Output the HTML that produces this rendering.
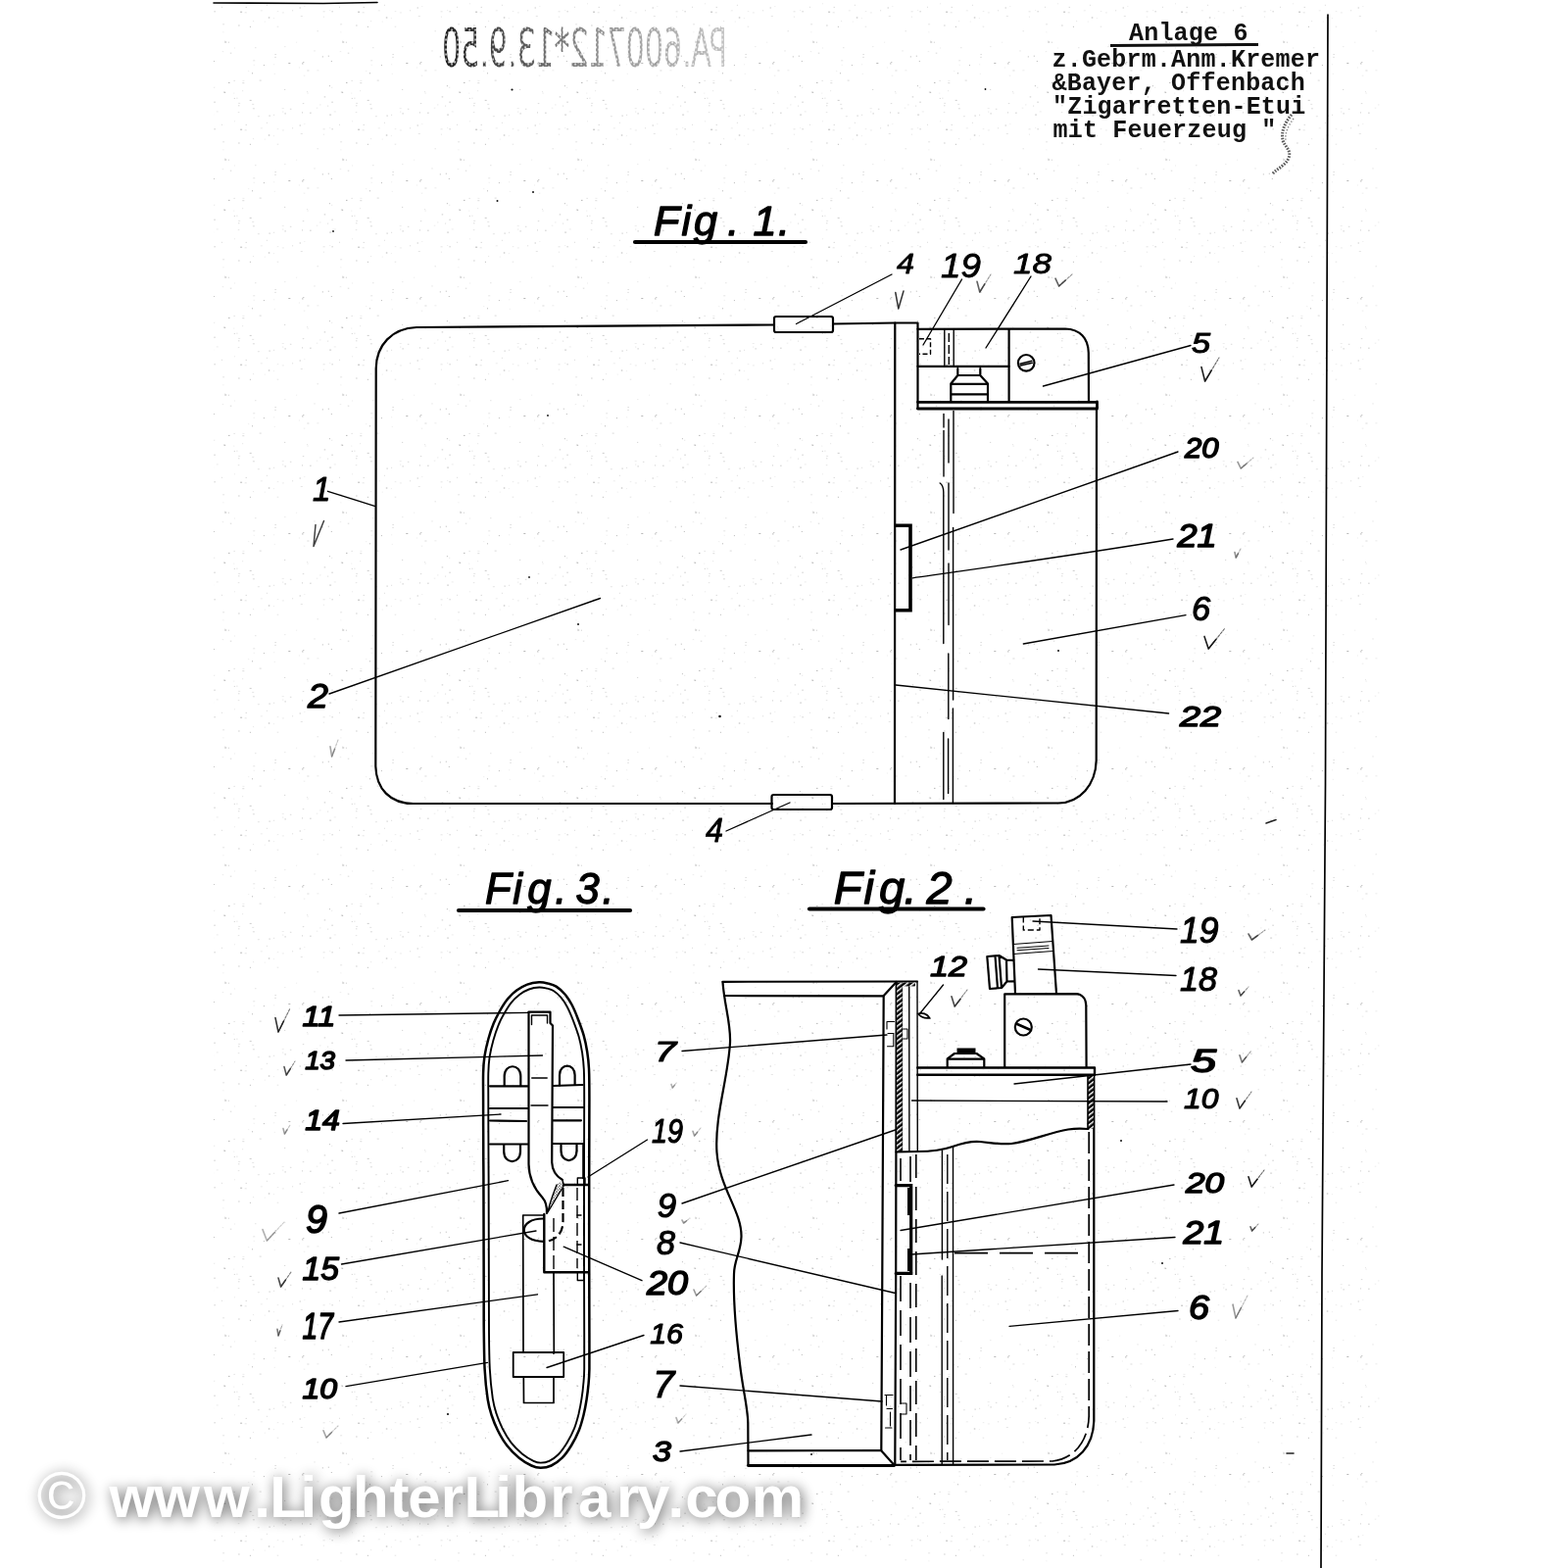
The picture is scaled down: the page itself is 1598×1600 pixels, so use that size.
<!DOCTYPE html>
<html lang="de">
<head>
<meta charset="utf-8">
<title>Anlage 6 - Zigarretten-Etui mit Feuerzeug</title>
<style>
html,body{margin:0;padding:0;background:#fff;}
body{width:1598px;height:1600px;overflow:hidden;}
svg{display:block;}
.m{fill:none;stroke:#000;stroke-width:2.2;stroke-linecap:round;stroke-linejoin:round;}
.h{fill:none;stroke:#000;stroke-width:2.8;stroke-linecap:round;stroke-linejoin:round;}
.t{fill:none;stroke:#000;stroke-width:1.4;stroke-linecap:round;stroke-linejoin:round;}
.l{fill:none;stroke:#000;stroke-width:1.35;stroke-linecap:round;}
.k{fill:none;stroke:#000;stroke-width:4;stroke-linecap:butt;stroke-linejoin:miter;}
.c{fill:none;stroke:#222;stroke-width:1.2;stroke-linecap:round;stroke-linejoin:round;opacity:.8;}
.n{font-family:"Liberation Sans","DejaVu Sans",sans-serif;font-style:italic;font-weight:normal;fill:#000;stroke:#000;stroke-linejoin:round;}
.f{font-family:"Liberation Sans","DejaVu Sans",sans-serif;font-style:italic;font-weight:normal;fill:#000;stroke:#000;stroke-width:1.3;stroke-linejoin:round;}
.ty{font-family:"Liberation Mono","DejaVu Sans Mono",monospace;font-weight:bold;font-size:25px;letter-spacing:.2px;fill:#111;}
</style>
</head>
<body>
<svg width="1598" height="1600" viewBox="0 0 1598 1600" role="img" aria-label="Patentzeichnung Zigarretten-Etui mit Feuerzeug">
<defs><pattern id="tx" width="120" height="120" patternUnits="userSpaceOnUse"><rect x="38.9" y="18.1" width="1" height="1" fill="#000" opacity="0.07"/><rect x="98.6" y="11.3" width="1" height="1" fill="#000" opacity="0.28"/><rect x="25.8" y="10.3" width="2" height="1" fill="#000" opacity="0.07"/><rect x="28.9" y="66.1" width="1" height="1" fill="#000" opacity="0.28"/><rect x="14.9" y="26.8" width="1" height="1" fill="#000" opacity="0.28"/><rect x="70.3" y="6.0" width="1" height="1" fill="#000" opacity="0.07"/><rect x="66.8" y="16.0" width="2" height="1" fill="#000" opacity="0.1"/><rect x="64.9" y="68.5" width="1" height="1" fill="#000" opacity="0.07"/><rect x="69.8" y="76.7" width="1.5" height="1" fill="#000" opacity="0.07"/><rect x="65.7" y="7.5" width="1" height="1" fill="#000" opacity="0.28"/><rect x="24.7" y="81.6" width="2" height="1" fill="#000" opacity="0.14"/><rect x="55.9" y="110.8" width="1.5" height="1" fill="#000" opacity="0.14"/><rect x="29.8" y="21.6" width="1" height="1" fill="#000" opacity="0.07"/><rect x="68.9" y="63.0" width="1.5" height="1" fill="#000" opacity="0.2"/><rect x="34.6" y="117.6" width="1" height="1" fill="#000" opacity="0.28"/><rect x="50.2" y="90.9" width="1" height="1" fill="#000" opacity="0.2"/><rect x="50.6" y="115.4" width="1" height="1" fill="#000" opacity="0.28"/><rect x="68.8" y="105.1" width="1.5" height="1" fill="#000" opacity="0.14"/><rect x="83.4" y="71.3" width="2" height="1" fill="#000" opacity="0.07"/><rect x="100.8" y="113.4" width="2" height="1" fill="#000" opacity="0.07"/><rect x="7.3" y="84.2" width="2" height="1" fill="#000" opacity="0.14"/><rect x="86.0" y="106.4" width="1.5" height="1" fill="#000" opacity="0.07"/><rect x="112.9" y="42.7" width="1" height="1" fill="#000" opacity="0.2"/><rect x="7.1" y="92.2" width="1" height="1" fill="#000" opacity="0.1"/><rect x="47.7" y="110.0" width="2" height="1" fill="#000" opacity="0.07"/><rect x="20.0" y="48.2" width="1.5" height="1" fill="#000" opacity="0.1"/><rect x="98.3" y="103.7" width="1.5" height="1" fill="#000" opacity="0.2"/><rect x="118.4" y="81.9" width="2" height="1" fill="#000" opacity="0.1"/><rect x="18.1" y="21.1" width="1" height="1" fill="#000" opacity="0.1"/><rect x="1.4" y="99.7" width="1" height="1" fill="#000" opacity="0.14"/><rect x="33.8" y="17.5" width="1.5" height="1" fill="#000" opacity="0.28"/><rect x="68.0" y="114.4" width="1" height="1" fill="#000" opacity="0.2"/><rect x="107.9" y="93.6" width="2" height="1" fill="#000" opacity="0.2"/><rect x="47.9" y="12.4" width="2" height="1" fill="#000" opacity="0.07"/><rect x="22.9" y="118.2" width="2" height="1" fill="#000" opacity="0.1"/><rect x="13.2" y="72.1" width="1" height="1" fill="#000" opacity="0.07"/><rect x="68.0" y="64.4" width="1.5" height="1" fill="#000" opacity="0.28"/><rect x="3.1" y="104.9" width="2" height="1" fill="#000" opacity="0.1"/><rect x="76.1" y="114.7" width="1.5" height="1" fill="#000" opacity="0.2"/><rect x="14.7" y="101.9" width="2" height="1" fill="#000" opacity="0.2"/><rect x="58.1" y="10.3" width="1" height="1" fill="#000" opacity="0.14"/><rect x="88.8" y="57.4" width="1" height="1" fill="#000" opacity="0.28"/><rect x="2.8" y="114.1" width="1.5" height="1" fill="#000" opacity="0.1"/><rect x="82.8" y="109.7" width="1.5" height="1" fill="#000" opacity="0.07"/><rect x="83.5" y="31.3" width="1.5" height="1" fill="#000" opacity="0.1"/><rect x="42.7" y="26.7" width="1.5" height="1" fill="#000" opacity="0.1"/><rect x="73.6" y="94.6" width="1" height="1" fill="#000" opacity="0.1"/><rect x="98.2" y="88.8" width="1" height="1" fill="#000" opacity="0.1"/><rect x="62.1" y="42.7" width="1" height="1" fill="#000" opacity="0.07"/><rect x="94.8" y="56.7" width="1" height="1" fill="#000" opacity="0.28"/><rect x="114.8" y="53.7" width="1.5" height="1" fill="#000" opacity="0.14"/><rect x="9.7" y="12.3" width="2" height="1" fill="#000" opacity="0.1"/><rect x="40.5" y="57.9" width="1" height="1" fill="#000" opacity="0.2"/><rect x="109.1" y="41.3" width="1" height="1" fill="#000" opacity="0.07"/><rect x="109.2" y="93.9" width="1" height="1" fill="#000" opacity="0.2"/><rect x="106.7" y="52.1" width="1.5" height="1" fill="#000" opacity="0.07"/><rect x="96.1" y="116.6" width="2" height="1" fill="#000" opacity="0.2"/><rect x="48.2" y="113.6" width="1" height="1" fill="#000" opacity="0.1"/><rect x="119.2" y="3.3" width="2" height="1" fill="#000" opacity="0.1"/><rect x="73.4" y="71.5" width="2" height="1" fill="#000" opacity="0.14"/><rect x="18.7" y="65.8" width="1" height="1" fill="#000" opacity="0.07"/><rect x="95.9" y="87.2" width="1" height="1" fill="#000" opacity="0.28"/><rect x="89.9" y="16.7" width="1" height="1" fill="#000" opacity="0.1"/><rect x="3.4" y="25.5" width="1" height="1" fill="#000" opacity="0.28"/><rect x="39.1" y="65.3" width="1" height="1" fill="#000" opacity="0.07"/><rect x="109.2" y="42.5" width="2" height="1" fill="#000" opacity="0.28"/><rect x="97.8" y="62.0" width="1" height="1" fill="#000" opacity="0.28"/><rect x="18.2" y="61.3" width="2" height="1" fill="#000" opacity="0.1"/><rect x="73.0" y="93.1" width="1" height="1" fill="#000" opacity="0.1"/><rect x="17.0" y="74.3" width="1" height="1" fill="#000" opacity="0.28"/><rect x="7.4" y="81.9" width="2" height="1" fill="#000" opacity="0.07"/><rect x="106.0" y="6.8" width="1" height="1" fill="#000" opacity="0.14"/><rect x="5.1" y="11.7" width="2" height="1" fill="#000" opacity="0.28"/><rect x="3.3" y="107.3" width="1" height="1" fill="#000" opacity="0.2"/><rect x="39.1" y="116.8" width="1" height="1" fill="#000" opacity="0.14"/><rect x="54.3" y="64.0" width="2" height="1" fill="#000" opacity="0.28"/><rect x="113.0" y="83.9" width="1.5" height="1" fill="#000" opacity="0.28"/><rect x="107.1" y="24.3" width="2" height="1" fill="#000" opacity="0.1"/><rect x="50.0" y="47.1" width="1.5" height="1" fill="#000" opacity="0.07"/><rect x="80.5" y="51.4" width="1" height="1" fill="#000" opacity="0.14"/><rect x="94.1" y="107.6" width="1" height="1" fill="#000" opacity="0.14"/><rect x="17.2" y="105.9" width="2" height="1" fill="#000" opacity="0.1"/><rect x="89.6" y="11.3" width="2" height="1" fill="#000" opacity="0.1"/><rect x="118.8" y="99.9" width="1" height="1" fill="#000" opacity="0.2"/><rect x="119.3" y="48.5" width="2" height="1" fill="#000" opacity="0.1"/><rect x="42.8" y="11.1" width="1.5" height="1" fill="#000" opacity="0.07"/><rect x="40.6" y="55.0" width="1" height="1" fill="#000" opacity="0.2"/><rect x="39.8" y="74.9" width="1" height="1" fill="#000" opacity="0.07"/><rect x="118.2" y="94.6" width="1" height="1" fill="#000" opacity="0.07"/><rect x="31.9" y="4.8" width="1" height="1" fill="#000" opacity="0.14"/><rect x="90.7" y="98.4" width="1.5" height="1" fill="#000" opacity="0.2"/><rect x="17.9" y="110.3" width="2" height="1" fill="#000" opacity="0.14"/><rect x="10.7" y="6.9" width="1" height="1" fill="#000" opacity="0.2"/><rect x="107.4" y="32.3" width="1" height="1" fill="#000" opacity="0.07"/><rect x="96.2" y="10.0" width="1" height="1" fill="#000" opacity="0.07"/></pattern><pattern id="sp" width="6" height="5" patternUnits="userSpaceOnUse"><rect width="6" height="5" fill="#fff"/><rect x="1" y="1" width="1.8" height="1.5" fill="#000"/><rect x="4" y="3.4" width="1.8" height="1.3" fill="#000"/></pattern><linearGradient id="sg" gradientUnits="userSpaceOnUse" x1="0" y1="0" x2="291" y2="0"><stop offset="0" stop-color="#000" stop-opacity=".75"/><stop offset=".45" stop-color="#000" stop-opacity=".55"/><stop offset="1" stop-color="#000" stop-opacity=".05"/></linearGradient><mask id="spk" maskUnits="userSpaceOnUse" x="-10" y="-50" width="320" height="70"><rect x="-10" y="-50" width="320" height="70" fill="url(#sp)"/><rect x="-10" y="-50" width="320" height="70" fill="url(#sg)"/></mask><pattern id="stp" width="3" height="3" patternUnits="userSpaceOnUse"><rect width="3" height="3" fill="#fff"/><rect x=".4" y=".4" width="1.3" height="1.3" fill="#222"/><rect x="2" y="1.9" width=".9" height=".9" fill="#444"/></pattern><pattern id="hat" width="4" height="4" patternUnits="userSpaceOnUse" patternTransform="rotate(-38)"><rect width="4" height="4" fill="#000"/><rect x="0" y="0" width="4" height="1.5" fill="#fff"/></pattern><filter id="wsh" filterUnits="userSpaceOnUse" x="0" y="1460" width="880" height="140" color-interpolation-filters="sRGB"><feGaussianBlur in="SourceAlpha" stdDeviation="7" result="b"/><feOffset in="b" dx="1.5" dy="2" result="o"/><feComponentTransfer in="o" result="s"><feFuncA type="linear" slope="0.62"/></feComponentTransfer><feMerge><feMergeNode in="s"/><feMergeNode in="SourceGraphic"/></feMerge></filter></defs>
<rect width="1598" height="1600" fill="#fff"/>
<rect x="218" y="0" width="1190" height="1600" fill="url(#tx)"/>
<g id="border">
<path class="t" d="M218,3 L330,3.5 L385,2.5" style="stroke-width:1.6"/>
<path class="t" d="M1355,15 L1352.5,800 L1349,1300 L1348,1600" style="stroke-width:1.7"/>
</g>
<g id="fig1">
<path class="m" d="M790,331.5 L425,334 C400,335 384,352 383.7,376 L383.3,782 C384,805 398,820 422,820 L788,820"/>
<rect class="m" x="790" y="323" width="60" height="16" rx="2"/>
<rect class="m" x="787.5" y="811" width="61.5" height="15" rx="2"/>
<path class="m" d="M850,330.5 L913,329.5 L936.5,329.5 L936.5,417"/>
<path class="m" d="M849,820 L1080,819.5 C1102,819 1118,801 1118.7,776 L1119,417"/>
<line class="m" x1="913.3" y1="329.5" x2="913" y2="820"/>
<path class="h" d="M936.5,410.3 L1119,410.3 M936.5,417 L1119.5,417 L1119.5,410"/>
<path class="m" d="M936.5,335.8 L1087,335.5 C1102,336 1110.5,345 1110.8,360 L1111,410"/>
<line class="m" x1="1029.6" y1="336" x2="1029.6" y2="410"/>
<line class="m" x1="936.5" y1="373.8" x2="1029.6" y2="373.8"/>
<line class="t" x1="963.8" y1="336" x2="963.8" y2="373"/>
<line class="t" x1="973.2" y1="336" x2="973.2" y2="373"/>
<line class="t" x1="968.3" y1="340" x2="968.3" y2="372" stroke-dasharray="9 3" style="stroke-linecap:butt"/>
<path class="t" d="M938,345.8 L949.5,345.8 L949.5,361.3 L938,361.3" stroke-dasharray="5 2.5" style="stroke-linecap:butt"/>
<path class="m" d="M977.3,376 L977.3,383 L1000.3,383 L1000.3,376 M977.3,383 L970.3,391.5 L970.3,410 M1000.3,383 L1008,391.5 L1008,410 M970.3,391.8 L1008,391.8 M970.3,402.3 L1008,402.3"/>
<circle class="m" cx="1047.2" cy="370.3" r="8.3"/>
<path class="t" d="M1041,371.2 L1053,368.3 M1041.3,373 L1053.3,370.3"/>
<line class="t" x1="963" y1="422.5" x2="963" y2="436"/>
<line class="t" x1="963" y1="439.5" x2="963" y2="486"/>
<path class="t" d="M959.2,493 C961.5,494.5 962.7,498 962.8,502 L962.8,656.5"/>
<line class="t" x1="962.8" y1="747.5" x2="962.8" y2="815.5"/>
<line class="t" x1="968" y1="428" x2="968" y2="472"/>
<line class="t" x1="968" y1="493" x2="968" y2="561"/>
<line class="t" x1="968" y1="575" x2="968" y2="637.5"/>
<line class="t" x1="967.8" y1="667" x2="967.8" y2="733.5"/>
<line class="t" x1="967.6" y1="754" x2="967.6" y2="809.5"/>
<line class="t" x1="973" y1="419.5" x2="973" y2="523.5"/>
<line class="t" x1="972.6" y1="538.5" x2="972.6" y2="714"/>
<line class="t" x1="972.4" y1="723" x2="972.4" y2="819.5"/>
<path class="k" d="M913.6,536.2 L929,536.2 L929,622.8 L913.6,622.8" style="stroke-width:3.6"/>
</g>
<g id="fig2">
<path class="m" d="M737.5,1001.8 L936,1001.5"/>
<path class="m" d="M739,1016 L901.5,1016.3 L914.7,1002"/>
<path class="m" d="M737.5,1002 C739,1025 746,1045 745,1064 C743,1100 729,1140 731.5,1176 C734,1212 757,1236 756.5,1262 C756,1278 749,1286 749,1300 C748,1330 751,1360 755,1392 C758,1418 763,1436 763.3,1452 L763.5,1495.5"/>
<path class="h" d="M763.5,1495.5 L912.5,1495.5"/>
<path class="m" d="M763.5,1480.3 L899,1480 L912.5,1495"/>
<path class="m" d="M901.7,1016.3 L900.3,1300 L899.3,1480"/>
<path class="m" d="M914.7,1002 L914.2,1300 L913.3,1495"/>
<path class="t" d="M920.4,1002 L920.4,1175"/>
<path class="t" d="M927.7,1002 L927.9,1175 M936,1001.5 L936.3,1175"/>
<rect x="915.2" y="1003" width="5.4" height="172" fill="url(#hat)"/>
<rect x="916" y="1002.6" width="18" height="3.8" fill="url(#hat)"/>
<path class="t" d="M905,1042.5 L912.5,1042.5 M905,1042.5 L905,1050 M906,1054.5 L912,1054.5 M911.8,1054.5 L911.8,1067.8 L905.5,1067.8 M921.5,1050 L926,1050 L926,1060 L921.5,1060" style="stroke-width:1.1"/>
<path class="t" d="M903,1423.5 L911,1423.5 M904.5,1423.5 L904.5,1434 M905,1437.5 L910.5,1437.5 M908.5,1441 L908.5,1455 M903.5,1457 L910,1457 M919,1432 L925,1432 L925,1443 L919,1443" style="stroke-width:1.1"/>
<path class="m" d="M936.3,1089.5 L1117,1089.5 L1117,1096.8 L936.3,1096.8" style="stroke-width:2.4"/>
<path class="m" d="M1025.2,1089 L1025.2,1014.3 L1098,1014.2 C1104,1014.5 1108,1019 1108.3,1026 L1108.6,1089"/>
<circle class="m" cx="1044.3" cy="1048" r="8.5"/>
<path class="m" d="M1038,1045 L1050.5,1050.5" style="stroke-width:2.6"/>
<path class="m" d="M966.7,1089 L966.7,1080.3 L974,1075 L996.5,1075 L1004.3,1080.3 L1004.3,1089 M966.7,1080.6 L1004.3,1080.6"/>
<path class="k" d="M976.5,1072 L995.5,1072" style="stroke-width:5"/>
<path class="m" d="M1036,1014 L1032.7,936 L1072.5,934 L1078,1014"/>
<path class="t" d="M1044.3,935.5 L1044.3,949 L1061,949 L1061,935" stroke-dasharray="6 3" style="stroke-linecap:butt"/>
<path class="t" d="M1034,963.5 L1074,960.5 M1034.3,973.5 L1074.5,970.5 M1038,967.3 L1070,965 M1038,969.7 L1070,967.5" style="stroke-width:1"/>
<path class="m" d="M1007.3,976 L1019.5,975 L1027,979.5 L1034.3,979.8 M1007.3,976 L1010,1009 L1022,1008 L1027.5,1001.5 L1035,1001.3 M1019.5,975 L1022,1008 M1027,979.5 L1027.5,1001.5 M1015.5,975.5 L1018,1008.3"/>
<path class="m" d="M1116.3,1097 L1116.3,1450 C1115.5,1476 1100,1493 1076,1494.5 L913,1494.8"/>
<path class="m" d="M1110.3,1097 L1110.3,1152"/>
<rect x="1110.8" y="1098" width="5" height="54" fill="url(#hat)"/>
<path class="t" d="M1111.2,1155 L1111.2,1445 C1110.5,1470 1097,1488 1074,1491 L919,1491.3" stroke-dasharray="22 6" style="stroke-linecap:butt;stroke-width:1.7"/>
<path class="m" d="M936.3,1175 C950,1175 962,1173.5 972,1170 C982,1166.5 990,1164 1000,1165 C1012,1166 1020,1168 1032,1167 C1050,1165 1070,1156 1090,1152.5 C1098,1151.3 1104,1151.5 1110.3,1152"/>
<path class="m" d="M914.5,1175.5 L936.3,1175"/>
<path class="t" d="M919,1182 L919,1205 M919,1302 L919,1490" stroke-dasharray="26 9" style="stroke-linecap:butt;stroke-width:1.6"/>
<path class="t" d="M929,1180 L929,1206 M929,1309 L929,1490" stroke-dasharray="26 9" style="stroke-linecap:butt;stroke-width:1.6"/>
<path class="t" d="M934.8,1178 L934.8,1490" stroke-dasharray="24 9" style="stroke-linecap:butt;stroke-width:1.6"/>
<path class="t" d="M961.4,1174 L961.4,1285 M961.2,1302 L961.2,1494"/>
<path class="t" d="M966.8,1178 L966.8,1490" stroke-dasharray="30 8" style="stroke-linecap:butt"/>
<path class="t" d="M972.5,1170 L972.6,1494"/>
<path class="t" d="M974,1278.7 L1107,1278.7" stroke-dasharray="34 12" style="stroke-linecap:butt;stroke-width:1.8"/>
<path class="m" d="M914.2,1209.6 L929.7,1209.6 L929.7,1299.4 L914.2,1299.4" style="stroke-width:3.2;stroke-linejoin:miter"/>
<path class="k" d="M928.3,1212 L928.3,1240 M928.3,1274 L928.3,1297" style="stroke-width:4.6"/>
</g>
<g id="fig3">
<path class="h" d="M493.1,1121.5 C493.1,1110.7 492.9,1102.3 493.1,1095.0 C493.3,1087.7 493.6,1083.4 494.5,1077.6 C495.4,1071.8 496.9,1065.5 498.4,1060.0 C499.9,1054.5 501.8,1049.0 503.7,1044.3 C505.6,1039.6 507.5,1036.1 509.8,1032.0 C512.1,1027.9 514.8,1023.4 517.7,1019.8 C520.6,1016.2 523.9,1013.1 527.3,1010.6 C530.7,1008.1 534.2,1006.0 538.0,1004.6 C541.8,1003.2 546.5,1002.5 550.1,1002.3 C553.7,1002.1 556.6,1002.9 559.5,1003.6 C562.4,1004.3 564.8,1004.8 567.6,1006.6 C570.4,1008.4 573.8,1011.4 576.4,1014.5 C579.0,1017.6 581.2,1020.9 583.4,1025.0 C585.6,1029.1 587.5,1033.7 589.5,1039.0 C591.5,1044.3 594.1,1050.9 595.7,1056.6 C597.3,1062.3 598.3,1067.6 599.2,1073.3 C600.1,1079.0 600.6,1082.8 601.0,1090.8 C601.4,1098.8 601.4,1110.0 601.4,1121.5 C601.4,1133.0 601.3,1146.9 601.3,1160.0 C601.3,1173.1 601.2,1186.7 601.2,1200.0 C601.2,1213.3 601.2,1226.7 601.2,1240.0 C601.2,1253.3 601.2,1266.7 601.2,1280.0 C601.2,1293.3 601.3,1306.7 601.3,1320.0 C601.3,1333.3 601.4,1347.2 601.4,1360.0 C601.4,1372.8 601.5,1388.2 601.4,1397.0 C601.2,1405.8 601.0,1407.4 600.5,1412.6 C600.0,1417.8 599.4,1422.8 598.6,1428.0 C597.8,1433.2 596.8,1438.8 595.5,1444.0 C594.2,1449.2 592.9,1454.3 590.8,1459.5 C588.7,1464.7 585.9,1470.3 583.0,1475.0 C580.1,1479.7 577.0,1484.3 573.6,1487.7 C570.2,1491.1 566.2,1493.8 562.6,1495.5 C559.0,1497.2 555.1,1497.8 551.7,1497.8 C548.3,1497.8 545.9,1497.2 542.3,1495.5 C538.6,1493.8 534.0,1491.1 529.8,1487.7 C525.6,1484.3 520.9,1479.7 517.3,1475.0 C513.6,1470.3 510.5,1464.7 507.9,1459.5 C505.3,1454.3 503.3,1449.2 501.6,1444.0 C499.9,1438.8 498.9,1435.8 497.7,1428.0 C496.5,1420.2 495.2,1408.3 494.6,1397.0 C494.0,1385.7 494.0,1372.8 493.8,1360.0 C493.6,1347.2 493.7,1333.3 493.7,1320.0 C493.7,1306.7 493.6,1293.3 493.6,1280.0 C493.6,1266.7 493.5,1253.3 493.5,1240.0 C493.5,1226.7 493.4,1213.3 493.4,1200.0 C493.3,1186.7 493.2,1173.1 493.2,1160.0 C493.1,1146.9 493.1,1132.3 493.1,1121.5 Z" style="stroke-width:2.5"/>
<path class="m" d="M498.3,1121.5 C498.3,1110.7 498.1,1102.4 498.3,1095.2 C498.5,1088.0 498.8,1084.0 499.6,1078.4 C500.5,1072.7 501.9,1066.7 503.4,1061.4 C504.9,1056.0 506.7,1050.7 508.5,1046.3 C510.3,1041.8 512.1,1038.4 514.3,1034.6 C516.5,1030.7 519.0,1026.4 521.7,1023.1 C524.4,1019.8 527.4,1017.0 530.4,1014.8 C533.4,1012.5 536.5,1010.7 539.8,1009.5 C543.1,1008.3 547.3,1007.6 550.3,1007.5 C553.4,1007.4 555.9,1008.1 558.3,1008.6 C560.7,1009.2 562.4,1009.4 564.8,1011.0 C567.1,1012.5 570.1,1015.1 572.5,1017.9 C574.8,1020.6 576.8,1023.6 578.8,1027.5 C580.8,1031.3 582.7,1035.8 584.7,1040.9 C586.6,1046.0 589.1,1052.5 590.7,1058.0 C592.3,1063.6 593.2,1068.6 594.1,1074.1 C594.9,1079.6 595.4,1083.1 595.8,1091.0 C596.2,1098.9 596.2,1110.0 596.2,1121.5 C596.2,1133.0 596.1,1146.9 596.1,1160.0 C596.1,1173.1 596.0,1186.7 596.0,1200.0 C596.0,1213.3 596.0,1226.7 596.0,1240.0 C596.0,1253.3 596.0,1266.7 596.0,1280.0 C596.0,1293.3 596.1,1306.7 596.1,1320.0 C596.1,1333.3 596.2,1347.2 596.2,1360.0 C596.2,1372.8 596.3,1388.2 596.2,1396.9 C596.1,1405.6 595.8,1407.1 595.3,1412.1 C594.9,1417.2 594.3,1422.1 593.5,1427.2 C592.7,1432.3 591.7,1437.7 590.5,1442.8 C589.2,1447.8 588.0,1452.6 586.0,1457.6 C584.0,1462.5 581.2,1467.9 578.6,1472.3 C575.9,1476.7 572.9,1481.0 569.9,1484.0 C566.9,1487.1 563.5,1489.3 560.4,1490.8 C557.4,1492.2 554.4,1492.6 551.7,1492.6 C549.0,1492.6 547.6,1492.3 544.5,1490.8 C541.4,1489.3 536.9,1486.8 533.1,1483.7 C529.3,1480.5 524.8,1476.2 521.4,1471.8 C518.0,1467.4 515.0,1462.1 512.5,1457.2 C510.1,1452.2 508.2,1447.4 506.5,1442.4 C504.9,1437.4 504.0,1434.8 502.8,1427.2 C501.7,1419.6 500.4,1407.9 499.8,1396.7 C499.2,1385.5 499.1,1372.7 499.0,1359.9 C498.9,1347.2 498.9,1333.3 498.9,1320.0 C498.9,1306.7 498.8,1293.3 498.8,1280.0 C498.8,1266.7 498.7,1253.3 498.7,1240.0 C498.7,1226.7 498.6,1213.3 498.6,1200.0 C498.5,1186.6 498.4,1173.1 498.4,1160.0 C498.3,1146.9 498.3,1132.3 498.3,1121.5 Z" style="stroke-width:1.9"/>
<path class="m" d="M539.5,1033 L539.5,1188 C539.8,1206 548,1216 553.5,1222 C557,1226 558.3,1230 558,1238"/>
<path class="m" d="M539.5,1032.7 L561.5,1032.7 L561.5,1044 L564,1046.5 L563.2,1186 C563.5,1196 568,1200.5 574,1204"/>
<path class="t" d="M542.5,1045.5 L542.5,1036 L558.5,1036 L558.5,1044"/>
<line class="t" x1="542.7" y1="1100" x2="558.2" y2="1100"/>
<line class="t" x1="542" y1="1128" x2="559" y2="1128"/>
<path class="m" d="M574,1204.5 L575.5,1209.5 L559,1237 C560.5,1228 565,1217 568,1209" style="stroke-width:1.4;fill:url(#stp)"/>
<path class="m" d="M500,1108.3 L538.5,1108.3 M564,1108 L594.5,1107 M500,1131 L538.5,1131 M564.5,1130 L595,1130 M500,1143.5 L537,1144 M564.5,1143.3 L593,1143.3 M500,1167.5 L538.5,1167.5 M564,1167 L595,1167"/>
<path class="m" d="M514.7,1108 L514.7,1098 C514.7,1085 531.3,1085 531.3,1098 L531.3,1108"/>
<path class="m" d="M571,1107.5 L571,1097 C571,1084.5 586.6,1084.5 586.6,1097 L586.6,1107"/>
<path class="m" d="M514.2,1168 L514.2,1175 C514.2,1188.5 531,1188.5 531,1175 L531,1168"/>
<path class="m" d="M572.5,1168 L572.5,1174 C572.5,1187.5 588.5,1187.5 588.5,1174 L588.5,1168"/>
<path class="k" d="M595.5,1167 L595.5,1203" style="stroke-width:2.6"/>
<path class="m" d="M575,1209 L600.8,1209 M555.3,1239 L555.3,1298.3 L600.8,1298.3" style="stroke-width:2.4"/>
<path class="t" d="M589.3,1202 L597,1202 L597,1209 M589.3,1202 L589.3,1209 M589.3,1299 L589.3,1306.5 L596,1306.5 L596,1299"/>
<path class="t" d="M565,1243 L565,1296" stroke-dasharray="14 5" style="stroke-linecap:butt"/>
<path class="m" d="M574.5,1212 L574.5,1246 C574.5,1258 568,1264.5 559,1266.5" stroke-dasharray="9 4" style="stroke-linecap:butt"/>
<path class="t" d="M589,1212 L589,1294 M595.8,1212 L595.8,1292" stroke-dasharray="13 5" style="stroke-linecap:butt"/>
<path class="t" d="M589,1240 L593,1240 M589,1270 L593,1270"/>
<path class="m" d="M555,1240 L533.7,1240 L534,1380 M565,1299 L565.3,1380 M534.3,1405 L534.5,1431.5 L565,1431.5 L565,1405" style="stroke-width:1.7"/>
<path class="m" d="M555,1243.5 C528,1243 528,1267 555,1266.8"/>
<rect class="m" x="523.7" y="1380" width="51.5" height="25" style="stroke-width:1.8"/>
</g>
<g id="leaders">
<line class="l" x1="334.5" y1="501.3" x2="383" y2="516.6"/>
<line class="l" x1="336" y1="708" x2="612.5" y2="610.5"/>
<line class="l" x1="910" y1="280" x2="812.5" y2="330.5"/>
<line class="l" x1="741" y1="848" x2="806" y2="819"/>
<line class="l" x1="981.5" y1="285" x2="942" y2="352"/>
<line class="l" x1="1052" y1="282" x2="1006" y2="355"/>
<line class="l" x1="1215" y1="352.5" x2="1064.5" y2="394"/>
<line class="l" x1="1202" y1="461" x2="919" y2="561"/>
<line class="l" x1="1210" y1="627.6" x2="1044.3" y2="657"/>
<line class="l" x1="1192.6" y1="728" x2="914" y2="699"/>
<line class="l" x1="962.5" y1="1005" x2="938" y2="1035"/>
<line class="l" x1="1201" y1="948" x2="1054" y2="940"/>
<line class="l" x1="1200" y1="995.5" x2="1059.5" y2="989"/>
<line class="l" x1="1215" y1="1086" x2="1035" y2="1106"/>
<line class="l" x1="1191" y1="1124" x2="930.5" y2="1123"/>
<line class="l" x1="1198" y1="1209" x2="919" y2="1255.5"/>
<line class="l" x1="1199" y1="1262.5" x2="930" y2="1280"/>
<line class="l" x1="1202" y1="1337.5" x2="1030" y2="1353.3"/>
<line class="l" x1="696" y1="1072.5" x2="905" y2="1056"/>
<line class="l" x1="696" y1="1228" x2="915" y2="1152.5"/>
<line class="l" x1="694" y1="1268" x2="913.5" y2="1319.5"/>
<line class="l" x1="694" y1="1414" x2="900" y2="1430"/>
<line class="l" x1="694" y1="1481" x2="828" y2="1464"/>
<line class="l" x1="346" y1="1036" x2="539.4" y2="1033.3"/>
<line class="l" x1="353" y1="1082" x2="553.5" y2="1077"/>
<line class="l" x1="350" y1="1146.5" x2="511" y2="1137"/>
<line class="l" x1="346" y1="1238" x2="518.5" y2="1204.7"/>
<line class="l" x1="348.5" y1="1290" x2="547" y2="1256"/>
<line class="l" x1="346" y1="1349" x2="548.5" y2="1320.8"/>
<line class="l" x1="353" y1="1414.6" x2="497.5" y2="1390.4"/>
<line class="l" x1="660.5" y1="1163" x2="600" y2="1201"/>
<line class="l" x1="655" y1="1306.7" x2="575.2" y2="1272.2"/>
<line class="l" x1="657" y1="1362.5" x2="558" y2="1395.5"/>
<path class="l" d="M1197,550 C1100,566 1000,580 931.3,589.8"/>
<path class="l" d="M937,1034.5 C941,1032.8 946,1034.5 948.5,1038.8 C944,1039.3 940,1038.5 937,1034.5 Z" style="stroke-width:1.8"/>
</g>
<g id="labels" opacity="0.999">
<text class="n" x="319.00" y="510.50" font-size="34.28" stroke-width="1.1" textLength="18.29" lengthAdjust="spacingAndGlyphs">1</text>
<text class="n" x="314.00" y="722.00" font-size="35.78" stroke-width="1.3" textLength="21.04" lengthAdjust="spacingAndGlyphs">2</text>
<text class="n" x="915.00" y="278.50" font-size="29.61" stroke-width="0.8" textLength="18.06" lengthAdjust="spacingAndGlyphs">4</text>
<text class="n" x="960.00" y="282.50" font-size="35.84" stroke-width="0.8" textLength="41.03" lengthAdjust="spacingAndGlyphs">19</text>
<text class="n" x="1034.00" y="278.50" font-size="28.71" stroke-width="0.8" textLength="39.03" lengthAdjust="spacingAndGlyphs">18</text>
<text class="n" x="1216.00" y="359.50" font-size="30.22" stroke-width="1.1" textLength="19.05" lengthAdjust="spacingAndGlyphs">5</text>
<text class="n" x="1209.00" y="467.00" font-size="29.61" stroke-width="1.5" textLength="34.60" lengthAdjust="spacingAndGlyphs">20</text>
<text class="n" x="1201.50" y="558.00" font-size="32.94" stroke-width="1.5" textLength="40.13" lengthAdjust="spacingAndGlyphs">21</text>
<text class="n" x="1216.00" y="632.50" font-size="34.26" stroke-width="1.1" textLength="19.11" lengthAdjust="spacingAndGlyphs">6</text>
<text class="n" x="1204.00" y="740.50" font-size="30.22" stroke-width="1.5" textLength="42.02" lengthAdjust="spacingAndGlyphs">22</text>
<text class="n" x="720.00" y="858.50" font-size="35.78" stroke-width="0.8" textLength="18.06" lengthAdjust="spacingAndGlyphs">4</text>
<text class="n" x="949.00" y="995.50" font-size="30.22" stroke-width="1.3" textLength="38.00" lengthAdjust="spacingAndGlyphs">12</text>
<text class="n" x="1204.00" y="962.00" font-size="37.76" stroke-width="1.1" textLength="39.54" lengthAdjust="spacingAndGlyphs">19</text>
<text class="n" x="1204.00" y="1010.50" font-size="35.84" stroke-width="1.1" textLength="38.00" lengthAdjust="spacingAndGlyphs">18</text>
<text class="n" x="1215.00" y="1093.50" font-size="32.94" stroke-width="1.5" textLength="26.04" lengthAdjust="spacingAndGlyphs">5</text>
<text class="n" x="1208.00" y="1130.50" font-size="28.71" stroke-width="1.1" textLength="35.52" lengthAdjust="spacingAndGlyphs">10</text>
<text class="n" x="1210.00" y="1217.00" font-size="29.61" stroke-width="1.5" textLength="39.09" lengthAdjust="spacingAndGlyphs">20</text>
<text class="n" x="1207.50" y="1268.50" font-size="32.94" stroke-width="1.5" textLength="41.56" lengthAdjust="spacingAndGlyphs">21</text>
<text class="n" x="1213.00" y="1345.50" font-size="35.78" stroke-width="1.5" textLength="21.00" lengthAdjust="spacingAndGlyphs">6</text>
<text class="n" x="667.80" y="1082.50" font-size="30.29" stroke-width="1.1" textLength="22.37" lengthAdjust="spacingAndGlyphs">7</text>
<text class="n" x="670.80" y="1242.00" font-size="34.92" stroke-width="1.1" textLength="19.42" lengthAdjust="spacingAndGlyphs">9</text>
<text class="n" x="670.00" y="1279.50" font-size="35.36" stroke-width="1.1" textLength="19.00" lengthAdjust="spacingAndGlyphs">8</text>
<text class="n" x="666.00" y="1426.00" font-size="39.15" stroke-width="1.0" textLength="22.37" lengthAdjust="spacingAndGlyphs">7</text>
<text class="n" x="666.00" y="1491.00" font-size="29.61" stroke-width="1.4" textLength="19.05" lengthAdjust="spacingAndGlyphs">3</text>
<text class="n" x="308.50" y="1046.50" font-size="30.29" stroke-width="1.5" textLength="33.70" lengthAdjust="spacingAndGlyphs">11</text>
<text class="n" x="311.20" y="1090.50" font-size="26.07" stroke-width="1.5" textLength="30.83" lengthAdjust="spacingAndGlyphs">13</text>
<text class="n" x="311.20" y="1152.50" font-size="29.61" stroke-width="1.5" textLength="35.66" lengthAdjust="spacingAndGlyphs">14</text>
<text class="n" x="312.00" y="1257.50" font-size="39.86" stroke-width="1.5" textLength="22.05" lengthAdjust="spacingAndGlyphs">9</text>
<text class="n" x="308.50" y="1306.40" font-size="34.13" stroke-width="1.5" textLength="37.33" lengthAdjust="spacingAndGlyphs">15</text>
<text class="n" x="308.50" y="1365.50" font-size="37.76" stroke-width="1.5" textLength="31.48" lengthAdjust="spacingAndGlyphs">17</text>
<text class="n" x="308.50" y="1426.50" font-size="28.71" stroke-width="1.5" textLength="35.53" lengthAdjust="spacingAndGlyphs">10</text>
<text class="n" x="665.00" y="1165.50" font-size="35.78" stroke-width="1.1" textLength="32.00" lengthAdjust="spacingAndGlyphs">19</text>
<text class="n" x="660.00" y="1320.50" font-size="34.28" stroke-width="1.5" textLength="42.09" lengthAdjust="spacingAndGlyphs">20</text>
<text class="n" x="663.20" y="1370.50" font-size="30.29" stroke-width="1.1" textLength="33.88" lengthAdjust="spacingAndGlyphs">16</text>
</g>
<g id="titles" opacity="0.999">
<text class="f" x="667.0 695.5 708.0 742.2 755.0 768.5 794.0" y="240.35" font-size="43.30" xml:space="preserve">Fig. 1.</text>
<line x1="648" y1="247" x2="822" y2="247" stroke="#000" stroke-width="4.2" stroke-linecap="round"/>
<text class="f" x="495.0 523.2 538.2 566.2 587.5 614.5" y="921.85" font-size="43.58" xml:space="preserve">Fig.3.</text>
<line x1="468" y1="929" x2="643" y2="929" stroke="#000" stroke-width="4.2" stroke-linecap="round"/>
<text class="f" x="850.8 881.5 897.0 922.5 945.5 984.0" y="921.85" font-size="47.07" xml:space="preserve">Fig.2.</text>
<line x1="826" y1="927.5" x2="1003.5" y2="927.5" stroke="#000" stroke-width="4.2" stroke-linecap="round"/>
</g>
<g id="typed" opacity="0.999">
<text class="ty" x="1152" y="41">Anlage 6</text>
<line x1="1133" y1="46.5" x2="1284" y2="45.5" stroke="#111" stroke-width="3"/>
<text class="ty" x="1073.5" y="67.5">z.Gebrm.Anm.Kremer</text>
<text class="ty" x="1073.5" y="92">&amp;Bayer, Offenbach</text>
<text class="ty" x="1074" y="115.5">"Zigarretten-Etui</text>
<text class="ty" x="1074.5" y="140" xml:space="preserve">mit Feuerzeug "</text>
<path class="c" d="M1318,117 C1311,125 1307,135 1309,143 C1311,150 1318,153 1315,161 C1312,169 1304,171 1298,178" stroke-dasharray="1.6 1.3" style="stroke-width:3;stroke-linecap:butt;opacity:.75"/>
<path class="c" d="M1320,121 C1314,129 1311,137 1312,143" stroke-dasharray="1.2 2" style="stroke-width:1.5;stroke-linecap:butt;opacity:.6"/>
</g>
<g id="stamp" transform="translate(742,66.5) scale(-1,1)">
<text x="0" y="0" font-size="51" textLength="291" lengthAdjust="spacingAndGlyphs" style="font-family:'DejaVu Sans Light','DejaVu Sans','Liberation Sans',sans-serif;font-weight:200;fill:#111;stroke:#111;stroke-width:2" mask="url(#spk)">PA.600712*13.9.50</text>
</g>
<g id="checks">
<path d="M913.8,298.5 L916.8,315 L922,297" fill="none" stroke="#111" stroke-width="1.5" stroke-linecap="round" stroke-linejoin="round" opacity="0.85"/>
<path d="M322,535.5 L320,557.5 L330.5,531.5" fill="none" stroke="#111" stroke-width="1.5" stroke-linecap="round" stroke-linejoin="round" opacity="0.8"/>
<path d="M1229.6,389.0 L1244.0,365.0" fill="none" stroke="#222" stroke-width="1.1" stroke-linecap="round" stroke-dasharray="2.5 1.4" opacity="0.70"/>
<path d="M1226.0,374.6 L1229.6,389.0 L1236.1,378.2" fill="none" stroke="#111" stroke-width="1.6" stroke-linecap="round" stroke-linejoin="round" opacity="0.95"/>
<path d="M1233.2,662.0 L1250.0,641.0" fill="none" stroke="#222" stroke-width="1.1" stroke-linecap="round" stroke-dasharray="2.5 1.4" opacity="0.70"/>
<path d="M1229.0,649.4 L1233.2,662.0 L1240.8,652.5" fill="none" stroke="#111" stroke-width="1.6" stroke-linecap="round" stroke-linejoin="round" opacity="0.95"/>
<path d="M1266.2,478.0 L1279.0,467.0" fill="none" stroke="#222" stroke-width="1.1" stroke-linecap="round" stroke-dasharray="2.5 1.4" opacity="0.32"/>
<path d="M1263.0,471.4 L1266.2,478.0 L1272.0,473.1" fill="none" stroke="#111" stroke-width="1.6" stroke-linecap="round" stroke-linejoin="round" opacity="0.43"/>
<path d="M1261.2,569.0 L1266.0,560.0" fill="none" stroke="#222" stroke-width="1.1" stroke-linecap="round" stroke-dasharray="2.5 1.4" opacity="0.35"/>
<path d="M1260.0,563.6 L1261.2,569.0 L1263.4,565.0" fill="none" stroke="#111" stroke-width="1.6" stroke-linecap="round" stroke-linejoin="round" opacity="0.47"/>
<path d="M338.6,772.0 L345.0,755.0" fill="none" stroke="#222" stroke-width="1.1" stroke-linecap="round" stroke-dasharray="2.5 1.4" opacity="0.28"/>
<path d="M337.0,761.8 L338.6,772.0 L341.5,764.4" fill="none" stroke="#111" stroke-width="1.6" stroke-linecap="round" stroke-linejoin="round" opacity="0.38"/>
<path d="M974.2,1027.0 L987.0,1010.0" fill="none" stroke="#222" stroke-width="1.1" stroke-linecap="round" stroke-dasharray="2.5 1.4" opacity="0.56"/>
<path d="M971.0,1016.8 L974.2,1027.0 L980.0,1019.4" fill="none" stroke="#111" stroke-width="1.6" stroke-linecap="round" stroke-linejoin="round" opacity="0.76"/>
<path d="M1277.4,959.0 L1291.0,949.0" fill="none" stroke="#222" stroke-width="1.1" stroke-linecap="round" stroke-dasharray="2.5 1.4" opacity="0.49"/>
<path d="M1274.0,953.0 L1277.4,959.0 L1283.5,954.5" fill="none" stroke="#111" stroke-width="1.6" stroke-linecap="round" stroke-linejoin="round" opacity="0.66"/>
<path d="M1266.0,1016.0 L1274.0,1007.0" fill="none" stroke="#222" stroke-width="1.1" stroke-linecap="round" stroke-dasharray="2.5 1.4" opacity="0.49"/>
<path d="M1264.0,1010.6 L1266.0,1016.0 L1269.6,1012.0" fill="none" stroke="#111" stroke-width="1.6" stroke-linecap="round" stroke-linejoin="round" opacity="0.66"/>
<path d="M1267.4,1084.0 L1277.0,1072.0" fill="none" stroke="#222" stroke-width="1.1" stroke-linecap="round" stroke-dasharray="2.5 1.4" opacity="0.42"/>
<path d="M1265.0,1076.8 L1267.4,1084.0 L1271.7,1078.6" fill="none" stroke="#111" stroke-width="1.6" stroke-linecap="round" stroke-linejoin="round" opacity="0.57"/>
<path d="M1265.0,1131.0 L1277.0,1114.0" fill="none" stroke="#222" stroke-width="1.1" stroke-linecap="round" stroke-dasharray="2.5 1.4" opacity="0.59"/>
<path d="M1262.0,1120.8 L1265.0,1131.0 L1270.4,1123.3" fill="none" stroke="#111" stroke-width="1.6" stroke-linecap="round" stroke-linejoin="round" opacity="0.81"/>
<path d="M1277.2,1211.0 L1290.0,1194.0" fill="none" stroke="#222" stroke-width="1.1" stroke-linecap="round" stroke-dasharray="2.5 1.4" opacity="0.70"/>
<path d="M1274.0,1200.8 L1277.2,1211.0 L1283.0,1203.3" fill="none" stroke="#111" stroke-width="1.6" stroke-linecap="round" stroke-linejoin="round" opacity="0.95"/>
<path d="M1277.6,1256.0 L1284.0,1249.0" fill="none" stroke="#222" stroke-width="1.1" stroke-linecap="round" stroke-dasharray="2.5 1.4" opacity="0.49"/>
<path d="M1276.0,1251.8 L1277.6,1256.0 L1280.5,1252.8" fill="none" stroke="#111" stroke-width="1.6" stroke-linecap="round" stroke-linejoin="round" opacity="0.66"/>
<path d="M1261.0,1345.0 L1273.0,1322.0" fill="none" stroke="#222" stroke-width="1.1" stroke-linecap="round" stroke-dasharray="2.5 1.4" opacity="0.32"/>
<path d="M1258.0,1331.2 L1261.0,1345.0 L1266.4,1334.7" fill="none" stroke="#111" stroke-width="1.6" stroke-linecap="round" stroke-linejoin="round" opacity="0.43"/>
<path d="M284.0,1053.0 L296.0,1029.0" fill="none" stroke="#222" stroke-width="1.1" stroke-linecap="round" stroke-dasharray="2.5 1.4" opacity="0.63"/>
<path d="M281.0,1038.6 L284.0,1053.0 L289.4,1042.2" fill="none" stroke="#111" stroke-width="1.6" stroke-linecap="round" stroke-linejoin="round" opacity="0.85"/>
<path d="M292.2,1097.0 L301.0,1083.0" fill="none" stroke="#222" stroke-width="1.1" stroke-linecap="round" stroke-dasharray="2.5 1.4" opacity="0.52"/>
<path d="M290.0,1088.6 L292.2,1097.0 L296.2,1090.7" fill="none" stroke="#111" stroke-width="1.6" stroke-linecap="round" stroke-linejoin="round" opacity="0.71"/>
<path d="M1080.6,292.0 L1095.0,279.0" fill="none" stroke="#222" stroke-width="1.1" stroke-linecap="round" stroke-dasharray="2.5 1.4" opacity="0.49"/>
<path d="M1077.0,284.2 L1080.6,292.0 L1087.1,286.1" fill="none" stroke="#111" stroke-width="1.6" stroke-linecap="round" stroke-linejoin="round" opacity="0.66"/>
<path d="M999.8,298.0 L1011.0,280.0" fill="none" stroke="#222" stroke-width="1.1" stroke-linecap="round" stroke-dasharray="2.5 1.4" opacity="0.49"/>
<path d="M997.0,287.2 L999.8,298.0 L1004.8,289.9" fill="none" stroke="#111" stroke-width="1.6" stroke-linecap="round" stroke-linejoin="round" opacity="0.66"/>
<path d="M290.4,1157.0 L296.0,1148.0" fill="none" stroke="#222" stroke-width="1.1" stroke-linecap="round" stroke-dasharray="2.5 1.4" opacity="0.28"/>
<path d="M289.0,1151.6 L290.4,1157.0 L292.9,1153.0" fill="none" stroke="#111" stroke-width="1.6" stroke-linecap="round" stroke-linejoin="round" opacity="0.38"/>
<path d="M272.4,1266.0 L290.0,1247.0" fill="none" stroke="#222" stroke-width="1.1" stroke-linecap="round" stroke-dasharray="2.5 1.4" opacity="0.24"/>
<path d="M268.0,1254.6 L272.4,1266.0 L280.3,1257.5" fill="none" stroke="#111" stroke-width="1.6" stroke-linecap="round" stroke-linejoin="round" opacity="0.33"/>
<path d="M286.6,1313.0 L297.0,1298.0" fill="none" stroke="#222" stroke-width="1.1" stroke-linecap="round" stroke-dasharray="2.5 1.4" opacity="0.56"/>
<path d="M284.0,1304.0 L286.6,1313.0 L291.3,1306.2" fill="none" stroke="#111" stroke-width="1.6" stroke-linecap="round" stroke-linejoin="round" opacity="0.76"/>
<path d="M284.0,1363.0 L288.0,1352.0" fill="none" stroke="#222" stroke-width="1.1" stroke-linecap="round" stroke-dasharray="2.5 1.4" opacity="0.42"/>
<path d="M283.0,1356.4 L284.0,1363.0 L285.8,1358.0" fill="none" stroke="#111" stroke-width="1.6" stroke-linecap="round" stroke-linejoin="round" opacity="0.57"/>
<path d="M333.0,1467.0 L345.0,1455.0" fill="none" stroke="#222" stroke-width="1.1" stroke-linecap="round" stroke-dasharray="2.5 1.4" opacity="0.28"/>
<path d="M330.0,1459.8 L333.0,1467.0 L338.4,1461.6" fill="none" stroke="#111" stroke-width="1.6" stroke-linecap="round" stroke-linejoin="round" opacity="0.38"/>
<path d="M708.6,1159.0 L715.0,1151.0" fill="none" stroke="#222" stroke-width="1.1" stroke-linecap="round" stroke-dasharray="2.5 1.4" opacity="0.28"/>
<path d="M707.0,1154.2 L708.6,1159.0 L711.5,1155.4" fill="none" stroke="#111" stroke-width="1.6" stroke-linecap="round" stroke-linejoin="round" opacity="0.38"/>
<path d="M710.6,1322.0 L721.0,1312.0" fill="none" stroke="#222" stroke-width="1.1" stroke-linecap="round" stroke-dasharray="2.5 1.4" opacity="0.32"/>
<path d="M708.0,1316.0 L710.6,1322.0 L715.3,1317.5" fill="none" stroke="#111" stroke-width="1.6" stroke-linecap="round" stroke-linejoin="round" opacity="0.43"/>
<path d="M686.2,1110.0 L691.0,1104.0" fill="none" stroke="#222" stroke-width="1.1" stroke-linecap="round" stroke-dasharray="2.5 1.4" opacity="0.24"/>
<path d="M685.0,1106.4 L686.2,1110.0 L688.4,1107.3" fill="none" stroke="#111" stroke-width="1.6" stroke-linecap="round" stroke-linejoin="round" opacity="0.33"/>
<path d="M697.6,1248.0 L704.0,1243.0" fill="none" stroke="#222" stroke-width="1.1" stroke-linecap="round" stroke-dasharray="2.5 1.4" opacity="0.28"/>
<path d="M696.0,1245.0 L697.6,1248.0 L700.5,1245.8" fill="none" stroke="#111" stroke-width="1.6" stroke-linecap="round" stroke-linejoin="round" opacity="0.38"/>
<path d="M692.0,1452.0 L700.0,1443.0" fill="none" stroke="#222" stroke-width="1.1" stroke-linecap="round" stroke-dasharray="2.5 1.4" opacity="0.24"/>
<path d="M690.0,1446.6 L692.0,1452.0 L695.6,1448.0" fill="none" stroke="#111" stroke-width="1.6" stroke-linecap="round" stroke-linejoin="round" opacity="0.33"/>
<circle cx="522.5" cy="91.5" r="1.1" fill="#111"/>
<circle cx="507.5" cy="205" r="1" fill="#111"/>
<circle cx="544" cy="196" r="1" fill="#111"/>
<circle cx="340" cy="236" r="0.9" fill="#111"/>
<circle cx="559" cy="424" r="0.9" fill="#111"/>
<circle cx="540" cy="589" r="0.9" fill="#111"/>
<circle cx="590" cy="637" r="1" fill="#111"/>
<circle cx="734.5" cy="731" r="1.3" fill="#111"/>
<circle cx="1080" cy="664" r="1" fill="#111"/>
<circle cx="1005.5" cy="91" r="0.9" fill="#111"/>
<circle cx="1204.5" cy="117.5" r="0.9" fill="#111"/>
<circle cx="1144" cy="1164" r="1" fill="#111"/>
<circle cx="1186" cy="1289" r="1" fill="#111"/>
<circle cx="457" cy="1443" r="1.1" fill="#111"/>
<circle cx="565" cy="1381" r="1" fill="#111"/>
<circle cx="828" cy="1484" r="1" fill="#111"/>
<path class="c" d="M1292,840 L1302,836.5" style="opacity:1;stroke-width:1.6"/>
<path class="c" d="M1313,1483 L1320,1483" style="opacity:1;stroke-width:1.6"/>
</g>
<g id="watermark" filter="url(#wsh)">
<text x="37.4 95.0 111.5 157.2 208.0 259.2 275.2 306.4 325.0 360.0 397.5 416.2 449.8 473.5 505.2 522.5 561.2 589.9 629.0 650.0 681.4 699.2 729.5 766.8" y="1548.3" xml:space="preserve" style="font-family:'Liberation Sans','DejaVu Sans',sans-serif;font-size:60px;font-weight:bold;fill:#fff"><tspan style="font-size:69px;font-weight:normal" dy="0.6">©</tspan><tspan dy="-0.6"> www.LighterLibrary.com</tspan></text>
</g>
</svg>
</body>
</html>
